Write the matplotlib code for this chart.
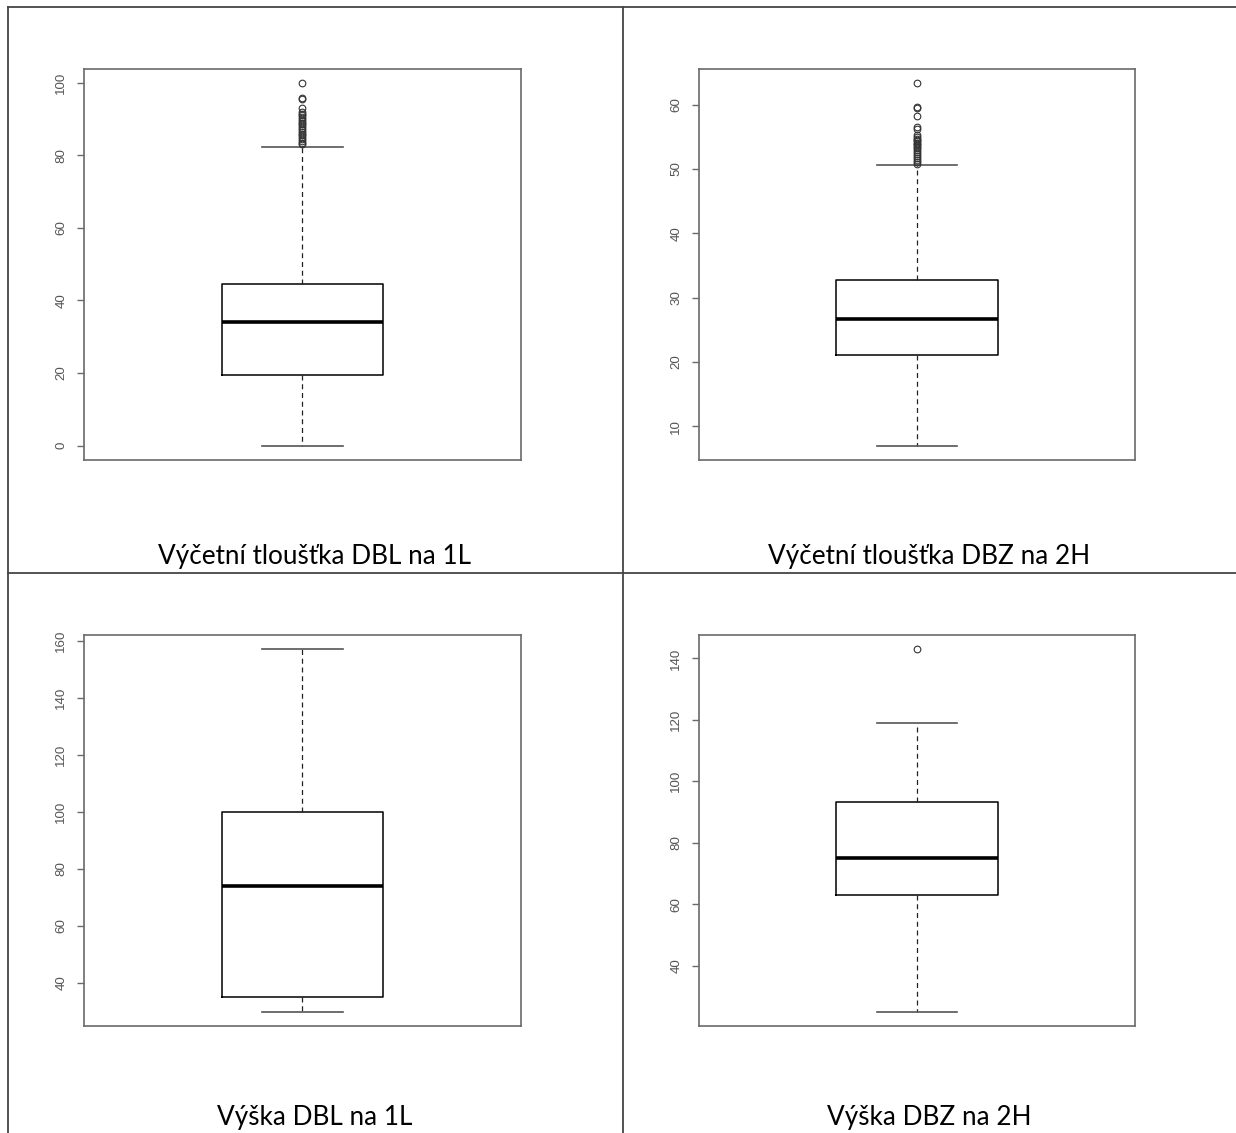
import matplotlib
matplotlib.use("Agg")
import matplotlib.pyplot as plt
from matplotlib.lines import Line2D

# values
titles = ["Výčetní tloušťka DBL na 1L", "Výčetní tloušťka DBZ na 2H",
          "Výška DBL na 1L", "Výška DBZ na 2H"]

q1 = [19.4, 21.0, 35.0, 62.9]
med = [34.1, 26.7, 73.9, 75.1]
q3 = [44.5, 32.8, 100.0, 93.2]
whislo = [0.0, 7.0, 30.0, 25.1]
whishi = [82.4, 50.7, 156.9, 119.0]

fliers_dbl_1l = [83.0, 83.5, 84.0, 84.5, 85.0, 85.5, 86.0, 86.5, 87.0, 87.5,
                 88.0, 88.5, 89.0, 89.5, 90.0, 90.5, 91.0, 91.5, 92.0,
                 93.1, 95.4, 95.8, 99.8]
fliers_dbz_2h = [50.8, 51.1, 51.4, 51.7, 52.0, 52.3, 52.6, 52.9, 53.2, 53.5,
                 53.7, 53.9, 54.1, 54.3, 54.5, 54.7, 55.0, 55.3,
                 56.2, 56.6, 58.3, 59.5, 59.7, 63.3]
fliers = [fliers_dbl_1l, fliers_dbz_2h, [], [142.9]]

yticks = [list(range(0, 101, 20)), list(range(10, 61, 10)),
          list(range(40, 161, 20)), list(range(40, 141, 20))]

W, H = 1236, 1133
fig = plt.figure(figsize=(W / 100, H / 100), dpi=100)

def px_axes(x0, y0, x1, y1):
    return fig.add_axes([x0 / W, 1 - y1 / H, (x1 - x0) / W, (y1 - y0) / H])

# plot boxes in pixels (left, top, right, bottom)
boxes = [(84, 69, 521, 460), (699, 69, 1135, 460),
         (84, 635, 521, 1026), (699, 635, 1135, 1026)]

frame_col = "#6a6a6a"
for i, b in enumerate(boxes):
    ax = px_axes(*b)
    st = dict(q1=q1[i], med=med[i], q3=q3[i], whislo=whislo[i],
              whishi=whishi[i], fliers=fliers[i])
    ax.bxp([st], positions=[1], widths=0.4, capwidths=0.2, showfliers=True,
           boxprops=dict(color="black", lw=1.1),
           medianprops=dict(color="black", lw=2.6),
           whiskerprops=dict(color="#222222", lw=0.9, ls=(0, (4, 3))),
           capprops=dict(color="#555555", lw=1.2),
           flierprops=dict(marker="o", markersize=4.8, markerfacecolor="none",
                           markeredgecolor="#333333", markeredgewidth=0.8))
    lo = min([whislo[i]] + fliers[i])
    hi = max([whishi[i]] + fliers[i])
    pad = 0.04 * (hi - lo)
    ax.set_ylim(lo - pad, hi + pad)
    ax.set_xlim(0.46, 1.54)
    ax.set_xticks([])
    ax.set_yticks(yticks[i])
    ax.set_yticklabels([str(t) for t in yticks[i]], rotation=90, va="center",
                       fontsize=9.6, family="Liberation Sans", color="#555555")
    ax.tick_params(axis="y", length=5, width=1, color=frame_col, pad=7)
    for s in ax.spines.values():
        s.set_color(frame_col)
        s.set_linewidth(1.2)

# table grid around the cells
grid_col = "#454545"
lines = [((8, 8), (7, H)), ((622.5, 622.5), (7, H)), ((8, W), (7, 7)),
         ((8, W), (572.7, 572.7))]
for xs, ys in lines:
    fig.add_artist(Line2D([x / W for x in xs], [1 - y / H for y in ys],
                          color=grid_col, lw=1.3))

cap_pos = [(315, 564), (929, 564), (315, 1125), (929, 1125)]
for t, (cx, cy) in zip(titles, cap_pos):
    fig.text(cx / W, 1 - cy / H, t, ha="center", va="baseline",
             fontsize=18.8, family="Lato", color="black")

fig.savefig("out.png", dpi=100)
